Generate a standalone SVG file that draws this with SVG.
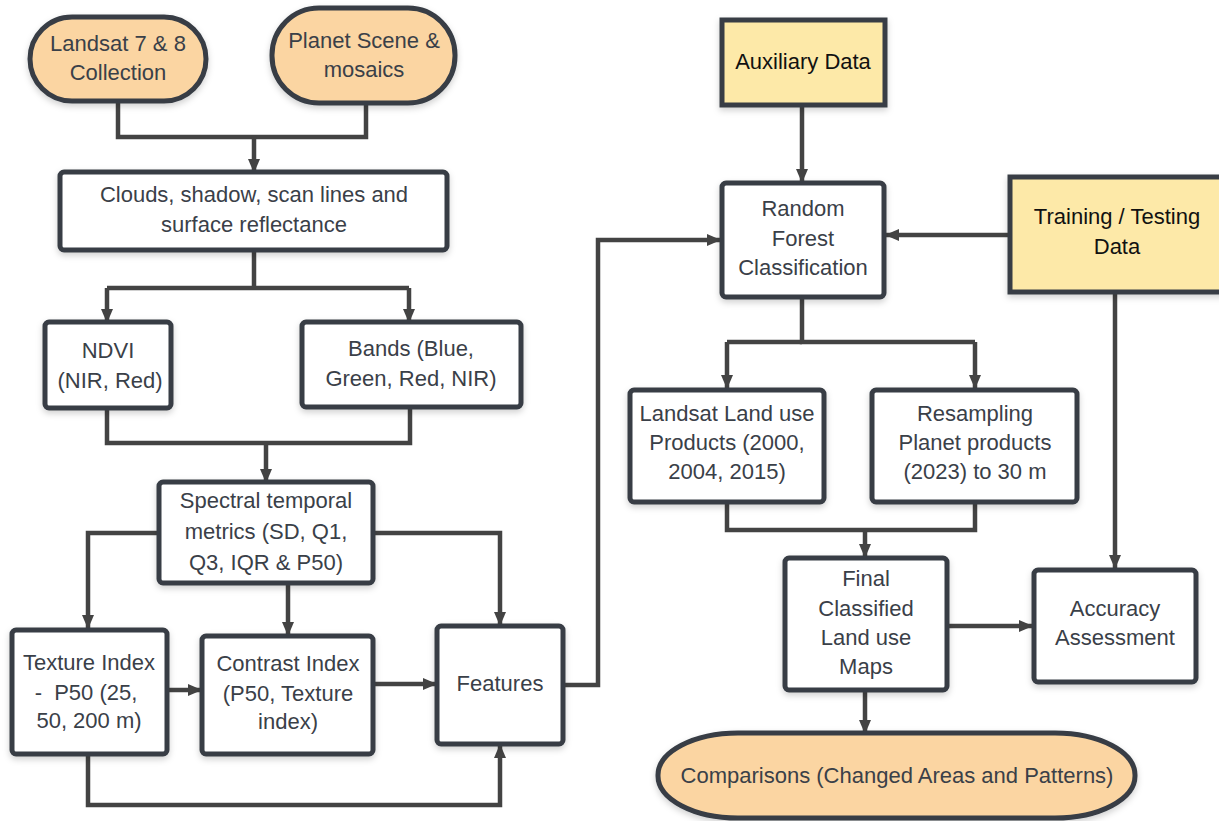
<svg xmlns="http://www.w3.org/2000/svg" width="1219" height="821" viewBox="0 0 1219 821">
<defs>
<marker id="ah" markerWidth="14" markerHeight="12" refX="13" refY="6" orient="auto" markerUnits="userSpaceOnUse">
<path d="M0,0 L14,6 L0,12 Z" fill="#434343"/>
</marker>
<filter id="sh" x="-10%" y="-10%" width="120%" height="130%">
<feDropShadow dx="0" dy="3" stdDeviation="3" flood-color="#000" flood-opacity="0.18"/>
</filter>
</defs>
<style>
.box{fill:#fff;stroke:#373d45;stroke-width:5;filter:url(#sh)}
.org{fill:#fbd5a2;stroke:#373d45;stroke-width:5;filter:url(#sh)}
.yel{fill:#fde9a8;stroke:#373d45;stroke-width:5;filter:url(#sh)}
.t{font-family:"Liberation Sans",Arial,sans-serif;font-size:22px;fill:#3a4048;text-anchor:middle;dominant-baseline:central}
.k{fill:#111}
.c{fill:none;stroke:#434343;stroke-width:4.5}
.ca{fill:none;stroke:#434343;stroke-width:4.5;marker-end:url(#ah)}
</style>
<rect width="1219" height="821" fill="#fff"/>
<g id="connectors">
<path class="c" d="M118,101 V137 H366 V103"/>
<path class="ca" d="M254,137 V172"/>
<path class="c" d="M254,250 V288"/>
<path class="c" d="M107,288 H409"/>
<path class="ca" d="M107,288 V322"/>
<path class="ca" d="M409,288 V322"/>
<path class="c" d="M107,408 V443 H410 V407"/>
<path class="ca" d="M266,443 V482"/>
<path class="ca" d="M159,533 H88 V628"/>
<path class="ca" d="M373,533 H500 V625"/>
<path class="ca" d="M288,583 V635"/>
<path class="ca" d="M167,690 H201"/>
<path class="ca" d="M373,684 H436"/>
<path class="ca" d="M88,754 V805 H500 V745"/>
<path class="ca" d="M563,685 H598 V240 H720"/>
<path class="ca" d="M802,105 V182"/>
<path class="ca" d="M1010,235 H886"/>
<path class="c" d="M802,297 V342 H975"/>
<path class="c" d="M727,342 H802"/>
<path class="ca" d="M727,342 V388"/>
<path class="ca" d="M975,342 V388"/>
<path class="c" d="M727,502 V530 H975 V502"/>
<path class="ca" d="M865,530 V557"/>
<path class="ca" d="M1115,292 V568"/>
<path class="ca" d="M947,626 H1032"/>
<path class="ca" d="M865,690 V733"/>
</g>
<g id="landsat78">
<rect class="org" x="30" y="17" width="176" height="84" rx="42"/>
<text class="t" x="118" y="43">Landsat 7 &amp; 8</text>
<text class="t" x="118" y="72">Collection</text>
</g>
<g id="planet">
<rect class="org" x="272" y="8" width="183" height="95" rx="47"/>
<text class="t" x="364" y="40">Planet Scene &amp;</text>
<text class="t" x="364" y="69">mosaics</text>
</g>
<g id="clouds">
<rect class="box" x="60" y="172" width="387" height="78" rx="4"/>
<text class="t" x="254" y="194">Clouds, shadow, scan lines and</text>
<text class="t" x="254" y="224">surface reflectance</text>
</g>
<g id="ndvi">
<rect class="box" x="45" y="322" width="126" height="86" rx="4"/>
<text class="t" x="108" y="350">NDVI</text>
<text class="t" x="110" y="380">(NIR, Red)</text>
</g>
<g id="bands">
<rect class="box" x="302" y="322" width="219" height="85" rx="4"/>
<text class="t" x="411" y="348">Bands (Blue,</text>
<text class="t" x="411" y="378">Green, Red, NIR)</text>
</g>
<g id="spectral">
<rect class="box" x="159" y="482" width="214" height="101" rx="4"/>
<text class="t" x="266" y="500">Spectral temporal</text>
<text class="t" x="266" y="531">metrics (SD, Q1,</text>
<text class="t" x="266" y="562">Q3, IQR &amp; P50)</text>
</g>
<g id="texture">
<rect class="box" x="12" y="630" width="155" height="124" rx="4"/>
<text class="t" x="89" y="662">Texture Index</text>
<text class="t" x="86" y="692" xml:space="preserve">-  P50 (25,</text>
<text class="t" x="89" y="720">50, 200 m)</text>
</g>
<g id="contrast">
<rect class="box" x="202" y="636" width="171" height="118" rx="4"/>
<text class="t" x="288" y="663">Contrast Index</text>
<text class="t" x="288" y="693">(P50, Texture</text>
<text class="t" x="288" y="721">index)</text>
</g>
<g id="features">
<rect class="box" x="437" y="626" width="126" height="118" rx="4"/>
<text class="t" x="500" y="683">Features</text>
</g>
<g id="auxiliary">
<rect class="yel" x="722" y="20" width="163" height="85"/>
<text class="t k" x="803" y="61">Auxiliary Data</text>
</g>
<g id="randomforest">
<rect class="box" x="722" y="183" width="162" height="114" rx="4"/>
<text class="t" x="803" y="208">Random</text>
<text class="t" x="803" y="238">Forest</text>
<text class="t" x="803" y="267">Classification</text>
</g>
<g id="training">
<rect class="yel" x="1010" y="177" width="215" height="115"/>
<text class="t k" x="1117" y="216">Training / Testing</text>
<text class="t k" x="1117" y="246">Data</text>
</g>
<g id="landsatproducts">
<rect class="box" x="630" y="390" width="194" height="112" rx="4"/>
<text class="t" x="727" y="413">Landsat Land use</text>
<text class="t" x="727" y="442">Products (2000,</text>
<text class="t" x="727" y="471">2004, 2015)</text>
</g>
<g id="resampling">
<rect class="box" x="872" y="390" width="205" height="112" rx="4"/>
<text class="t" x="975" y="413">Resampling</text>
<text class="t" x="975" y="442">Planet products</text>
<text class="t" x="975" y="471">(2023) to 30 m</text>
</g>
<g id="final">
<rect class="box" x="785" y="558" width="162" height="132" rx="4"/>
<text class="t" x="866" y="578">Final</text>
<text class="t" x="866" y="608">Classified</text>
<text class="t" x="866" y="637">Land use</text>
<text class="t" x="866" y="666">Maps</text>
</g>
<g id="accuracy">
<rect class="box" x="1034" y="570" width="162" height="112" rx="4"/>
<text class="t" x="1115" y="608">Accuracy</text>
<text class="t" x="1115" y="637">Assessment</text>
</g>
<g id="comparisons">
<rect class="org" x="658" y="733" width="477" height="85" rx="80" ry="42"/>
<text class="t" x="897" y="775">Comparisons (Changed Areas and Patterns)</text>
</g>
</svg>
